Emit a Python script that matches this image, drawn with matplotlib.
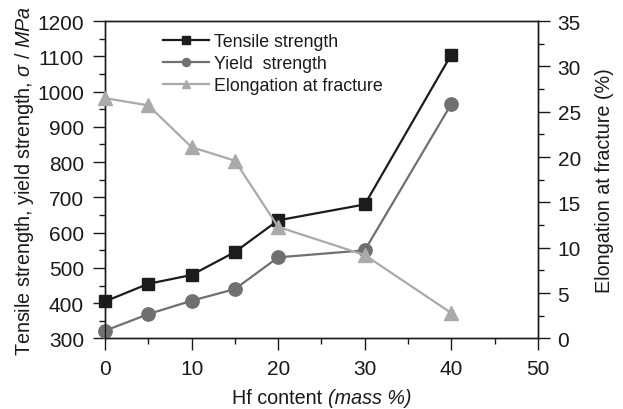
import matplotlib
matplotlib.use("Agg")
import matplotlib.pyplot as plt
from matplotlib.ticker import MultipleLocator
from matplotlib.offsetbox import TextArea, HPacker, AnchoredOffsetbox

plt.rcParams['font.family'] = ['Liberation Sans', 'DejaVu Sans']
plt.rcParams['mathtext.fontset'] = 'custom'
plt.rcParams['mathtext.rm'] = 'Liberation Sans'
plt.rcParams['mathtext.it'] = 'Liberation Sans:italic'

hf_content = [0, 5, 10, 15, 20, 30, 40]
tensile_strength = [405, 455, 480, 545, 635, 680, 1105]
yield_strength = [322, 369, 407, 440, 530, 550, 965]
elongation = [26.5, 25.7, 21.1, 19.6, 12.3, 9.2, 2.8]

c_tens = '#1c1c1c'
c_yield = '#707070'
c_elong = '#aaaaaa'
tc = '#1a1a1a'

fig = plt.figure(figsize=(6.23, 4.10), dpi=100)
ax = fig.add_axes([0.1685, 0.172, 0.695, 0.7743])
ax2 = ax.twinx()

l1, = ax.plot(hf_content, tensile_strength, color=c_tens, lw=1.6, marker='s',
              ms=8.8, label='Tensile strength', clip_on=False, zorder=3)
l2, = ax.plot(hf_content, yield_strength, color=c_yield, lw=1.6, marker='o',
              ms=9.6, label='Yield  strength', clip_on=False, zorder=3)
l3, = ax2.plot(hf_content, elongation, color=c_elong, lw=1.6, marker='^',
               ms=10.5, label='Elongation at fracture', clip_on=False, zorder=3)

ax.set_xlim(0, 50)
ax.set_ylim(300, 1200)
ax2.set_ylim(0, 35)

ax.xaxis.set_major_locator(MultipleLocator(10))
ax.xaxis.set_minor_locator(MultipleLocator(5))
ax.yaxis.set_major_locator(MultipleLocator(100))
ax.yaxis.set_minor_locator(MultipleLocator(50))
ax2.yaxis.set_major_locator(MultipleLocator(5))
ax2.yaxis.set_minor_locator(MultipleLocator(2.5))

for a in (ax, ax2):
    a.tick_params(which='major', direction='out', length=8.6, width=1.0,
                  color=tc, labelsize=15, labelcolor=tc, pad=6.5)
    a.tick_params(which='minor', direction='out', length=4.5, width=1.0, color=tc)
    for s in a.spines.values():
        s.set_color(tc)
        s.set_linewidth(1.0)

ax.tick_params(axis='both', which='both', top=False, right=False)
ax2.tick_params(axis='y', which='both', left=False, right=True)
ax2.tick_params(axis='y', which='major', pad=5.5)

ax.set_ylabel('Tensile strength, yield strength, $\\mathit{\\sigma}$ / $\\mathit{MPa}$',
              fontsize=14.2, color=tc, labelpad=1)
ax2.set_ylabel('Elongation at fracture (%)', fontsize=14.2, color=tc, labelpad=10)

# x label: normal + italic parts
ta1 = TextArea('Hf content ', textprops=dict(fontsize=14.2, color=tc))
ta2 = TextArea('(mass %)', textprops=dict(fontsize=14.2, color=tc, style='italic'))
box = HPacker(children=[ta1, ta2], align='baseline', pad=0, sep=0)
anch = AnchoredOffsetbox(loc='center', child=box, pad=0, frameon=False,
                         bbox_to_anchor=(0.516, 0.029), bbox_transform=fig.transFigure,
                         borderpad=0)
fig.add_artist(anch)

leg = ax.legend(handles=[l1, l2, l3], loc='upper left', bbox_to_anchor=(0.11, 0.995),
                frameon=False, fontsize=12.8, markerscale=0.6, handlelength=2.6,
                handletextpad=0.25, labelspacing=0.28, borderaxespad=0.2)
for t in leg.get_texts():
    t.set_color(tc)

fig.savefig('out.png', dpi=100)
